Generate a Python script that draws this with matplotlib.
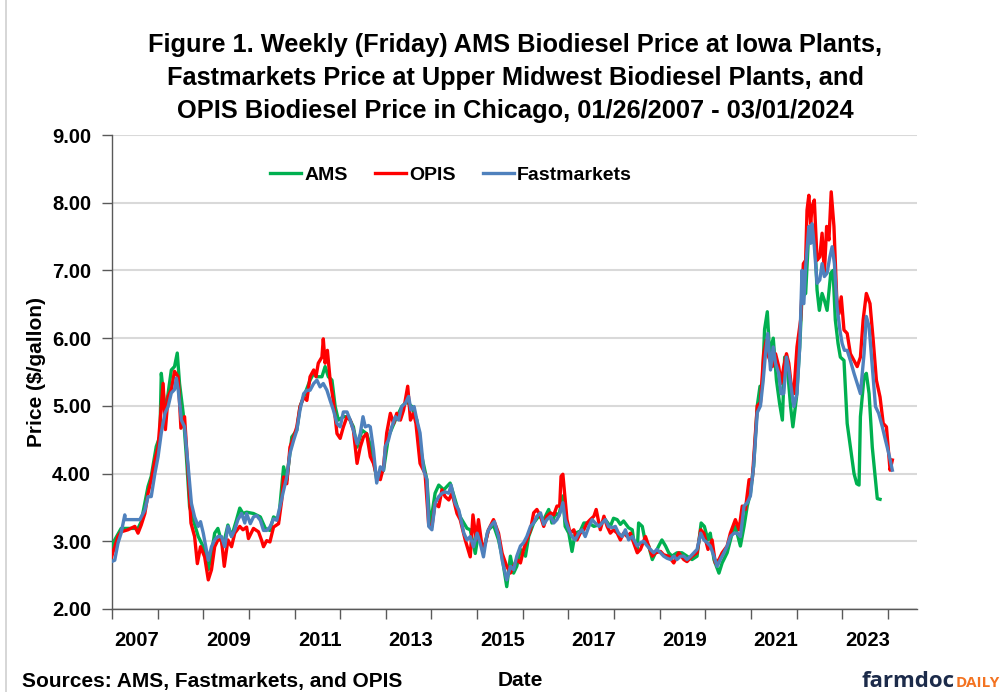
import matplotlib
matplotlib.use('Agg')
import matplotlib.pyplot as plt
from matplotlib.lines import Line2D

plt.rcParams['font.family'] = ['Liberation Sans', 'DejaVu Sans']
plt.rcParams['font.weight'] = 'bold'

# weekly prices, x in fractional years
ams_x = [2007.06, 2007.13, 2007.27, 2007.42, 2007.64, 2007.71, 2007.86, 2007.93, 2008.04, 2008.12,
         2008.15, 2008.21, 2008.26, 2008.37, 2008.44, 2008.50, 2008.55, 2008.63, 2008.70, 2008.77,
         2008.85, 2008.96, 2009.07, 2009.18, 2009.25, 2009.32, 2009.39, 2009.50, 2009.61, 2009.69,
         2009.80, 2009.87, 2009.94, 2010.02, 2010.17, 2010.32, 2010.43, 2010.53, 2010.61, 2010.72,
         2010.83, 2010.90, 2011.01, 2011.12, 2011.19, 2011.27, 2011.41, 2011.49, 2011.56, 2011.67,
         2011.74, 2011.81, 2011.89, 2011.96, 2012.03, 2012.14, 2012.25, 2012.36, 2012.44, 2012.55,
         2012.65, 2012.77, 2012.87, 2013.02, 2013.13, 2013.28, 2013.42, 2013.53, 2013.64, 2013.75,
         2013.86, 2013.97, 2014.04, 2014.15, 2014.23, 2014.34, 2014.48, 2014.59, 2014.70, 2014.85,
         2014.92, 2015.03, 2015.10, 2015.21, 2015.32, 2015.43, 2015.54, 2015.62, 2015.65, 2015.72,
         2015.80, 2015.87, 2015.94, 2016.02, 2016.13, 2016.20, 2016.31, 2016.42, 2016.53, 2016.64,
         2016.71, 2016.79, 2016.86, 2016.95, 2017.00, 2017.08, 2017.15, 2017.22, 2017.33, 2017.41,
         2017.52, 2017.63, 2017.77, 2017.88, 2017.99, 2018.06, 2018.14, 2018.21, 2018.28, 2018.39,
         2018.47, 2018.50, 2018.58, 2018.61, 2018.69, 2018.76, 2018.83, 2018.91, 2018.98, 2019.05,
         2019.12, 2019.20, 2019.27, 2019.34, 2019.45, 2019.56, 2019.67, 2019.78, 2019.89, 2019.98,
         2020.05, 2020.13, 2020.18, 2020.26, 2020.37, 2020.44, 2020.55, 2020.66, 2020.73, 2020.84,
         2020.92, 2020.99, 2021.06, 2021.13, 2021.21, 2021.27, 2021.32, 2021.37, 2021.43, 2021.48,
         2021.56, 2021.63, 2021.70, 2021.76, 2021.81, 2021.88, 2021.94, 2021.99, 2022.07, 2022.14,
         2022.19, 2022.27, 2022.34, 2022.41, 2022.46, 2022.52, 2022.57, 2022.63, 2022.68, 2022.74,
         2022.82, 2022.87, 2022.92, 2022.98, 2023.03, 2023.11, 2023.18, 2023.25, 2023.33, 2023.39,
         2023.44, 2023.47, 2023.55, 2023.60, 2023.66, 2023.73, 2023.80, 2023.84, 2023.90]
ams_y = [2.92, 3.02, 3.19, 3.19, 3.19, 3.29, 3.81, 3.96, 4.40, 4.55,
         5.48, 5.09, 4.99, 5.53, 5.58, 5.78, 5.33, 4.89, 4.25, 3.51,
         3.32, 3.07, 2.92, 2.58, 2.82, 3.12, 3.19, 2.92, 3.24, 3.07,
         3.32, 3.49, 3.41, 3.43, 3.41, 3.36, 3.19, 3.16, 3.36, 3.31,
         4.10, 3.90, 4.54, 4.64, 4.99, 5.13, 5.38, 5.48, 5.43, 5.43,
         5.58, 5.43, 5.38, 4.99, 4.79, 4.84, 4.84, 4.69, 4.39, 4.64,
         4.59, 4.34, 3.91, 4.05, 4.55, 4.79, 4.99, 5.06, 4.99, 4.79,
         4.25, 3.91, 3.22, 3.71, 3.83, 3.76, 3.86, 3.61, 3.36, 3.19,
         3.17, 2.82, 3.12, 2.87, 3.17, 3.24, 3.02, 2.77, 2.63, 2.33,
         2.78, 2.53, 2.63, 2.88, 2.78, 3.07, 3.27, 3.37, 3.32, 3.47,
         3.27, 3.42, 3.37, 3.67, 3.22, 3.12, 2.85, 3.12, 3.15, 3.27,
         3.27, 3.22, 3.25, 3.32, 3.22, 3.34, 3.32, 3.25, 3.30, 3.20,
         3.17, 3.02, 2.88, 3.27, 3.22, 2.98, 2.93, 2.73, 2.83, 2.93,
         3.02, 2.93, 2.83, 2.78, 2.83, 2.83, 2.78, 2.73, 2.78, 3.27,
         3.22, 3.02, 3.12, 2.73, 2.53, 2.68, 2.83, 3.12, 3.22, 2.93,
         3.22, 3.52, 3.71, 4.11, 5.00, 5.29, 5.29, 6.13, 6.39, 5.77,
         6.00, 5.38, 5.03, 4.79, 5.72, 5.48, 4.99, 4.69, 5.13, 5.87,
         6.61, 6.66, 7.60, 7.55, 7.60, 6.71, 6.41, 6.66, 6.56, 6.41,
         6.96, 7.00, 6.27, 5.92, 5.72, 5.67, 4.74, 4.39, 4.00, 3.85,
         3.83, 4.84, 5.43, 5.48, 5.18, 4.39, 3.90, 3.63, 3.62]

opis_x = [2007.06, 2007.13, 2007.20, 2007.27, 2007.42, 2007.57, 2007.64, 2007.71, 2007.79, 2007.86,
          2007.93, 2008.01, 2008.08, 2008.15, 2008.19, 2008.24, 2008.30, 2008.37, 2008.44, 2008.52,
          2008.58, 2008.66, 2008.74, 2008.80, 2008.88, 2008.94, 2009.01, 2009.10, 2009.18, 2009.25,
          2009.32, 2009.39, 2009.47, 2009.53, 2009.61, 2009.69, 2009.76, 2009.87, 2009.94, 2010.02,
          2010.06, 2010.17, 2010.28, 2010.35, 2010.39, 2010.46, 2010.53, 2010.61, 2010.72, 2010.79,
          2010.83, 2010.90, 2010.97, 2011.05, 2011.12, 2011.19, 2011.27, 2011.34, 2011.41, 2011.49,
          2011.54, 2011.59, 2011.67, 2011.70, 2011.74, 2011.79, 2011.85, 2011.92, 2012.00, 2012.07,
          2012.14, 2012.22, 2012.29, 2012.36, 2012.44, 2012.51, 2012.58, 2012.65, 2012.73, 2012.80,
          2012.87, 2012.95, 2013.02, 2013.09, 2013.17, 2013.24, 2013.31, 2013.39, 2013.46, 2013.55,
          2013.61, 2013.68, 2013.73, 2013.82, 2013.93, 2014.01, 2014.08, 2014.15, 2014.23, 2014.30,
          2014.37, 2014.45, 2014.52, 2014.63, 2014.70, 2014.81, 2014.92, 2014.98, 2015.05, 2015.10,
          2015.18, 2015.25, 2015.32, 2015.43, 2015.54, 2015.62, 2015.72, 2015.80, 2015.87, 2015.94,
          2016.02, 2016.09, 2016.16, 2016.24, 2016.31, 2016.38, 2016.46, 2016.53, 2016.60, 2016.68,
          2016.75, 2016.82, 2016.88, 2016.91, 2016.95, 2017.00, 2017.04, 2017.11, 2017.19, 2017.26,
          2017.33, 2017.41, 2017.48, 2017.55, 2017.63, 2017.68, 2017.77, 2017.85, 2017.92, 2017.99,
          2018.06, 2018.14, 2018.21, 2018.28, 2018.36, 2018.43, 2018.50, 2018.58, 2018.65, 2018.76,
          2018.83, 2018.91, 2018.98, 2019.09, 2019.16, 2019.27, 2019.38, 2019.49, 2019.60, 2019.67,
          2019.78, 2019.89, 2019.97, 2020.04, 2020.13, 2020.22, 2020.29, 2020.37, 2020.44, 2020.55,
          2020.62, 2020.73, 2020.81, 2020.88, 2020.95, 2021.03, 2021.10, 2021.17, 2021.21, 2021.28,
          2021.35, 2021.41, 2021.46, 2021.54, 2021.61, 2021.68, 2021.73, 2021.79, 2021.85, 2021.90,
          2021.95, 2022.01, 2022.08, 2022.16, 2022.22, 2022.27, 2022.30, 2022.34, 2022.38, 2022.41,
          2022.46, 2022.52, 2022.58, 2022.63, 2022.68, 2022.73, 2022.78, 2022.83, 2022.89, 2022.95,
          2023.00, 2023.05, 2023.11, 2023.18, 2023.25, 2023.33, 2023.40, 2023.47, 2023.53, 2023.60,
          2023.68, 2023.75, 2023.82, 2023.90, 2023.97, 2024.04, 2024.12, 2024.17]
opis_y = [2.77, 2.92, 3.07, 3.14, 3.17, 3.22, 3.12, 3.24, 3.41, 3.71,
          3.91, 4.20, 4.40, 4.99, 5.33, 4.65, 5.14, 5.24, 5.51, 5.43,
          4.67, 4.84, 4.00, 3.27, 3.07, 2.67, 2.92, 2.77, 2.43, 2.58,
          2.92, 3.02, 3.02, 2.63, 3.02, 2.92, 3.12, 3.22, 3.17, 3.21,
          3.04, 3.19, 3.14, 3.01, 2.92, 3.01, 2.99, 3.21, 3.26, 3.61,
          3.95, 3.85, 4.39, 4.54, 4.69, 4.99, 5.13, 5.08, 5.43, 5.53,
          5.43, 5.63, 5.72, 5.99, 5.63, 5.82, 5.38, 5.08, 4.59, 4.52,
          4.69, 4.84, 4.79, 4.64, 4.15, 4.39, 4.54, 4.59, 4.25, 4.15,
          3.96, 3.91, 4.10, 4.60, 4.89, 4.74, 4.89, 4.79, 4.94, 5.29,
          4.79, 4.89, 4.74, 4.15, 4.00, 3.24, 3.22, 3.56, 3.51, 3.76,
          3.66, 3.61, 3.71, 3.41, 3.32, 3.02, 2.77, 3.39, 3.02, 3.32,
          2.92, 2.97, 3.17, 3.32, 3.12, 2.82, 2.63, 2.53, 2.63, 2.73,
          2.68, 2.88, 3.02, 3.17, 3.42, 3.47, 3.37, 3.22, 3.37, 3.42,
          3.39, 3.52, 3.52, 3.96, 3.99, 3.62, 3.32, 3.12, 3.17, 3.02,
          3.12, 3.17, 3.27, 3.32, 3.37, 3.47, 3.17, 3.37, 3.22, 3.12,
          3.17, 3.12, 3.02, 3.12, 3.07, 3.12, 2.98, 2.83, 2.88, 3.07,
          2.93, 2.78, 2.83, 2.85, 2.80, 2.78, 2.68, 2.83, 2.73, 2.70,
          2.78, 2.83, 3.17, 3.12, 2.88, 3.02, 2.68, 2.73, 2.83, 2.93,
          3.12, 3.32, 3.17, 3.52, 3.47, 3.91, 3.91, 4.60, 5.00, 5.05,
          5.77, 5.97, 5.72, 5.58, 5.77, 5.58, 5.33, 5.58, 5.77, 5.63,
          5.33, 5.18, 5.87, 6.27, 7.10, 7.15, 7.89, 8.11, 7.69, 7.94,
          8.04, 7.15, 7.20, 7.55, 6.96, 7.65, 7.45, 8.16, 7.65, 6.61,
          6.36, 6.61, 6.12, 6.07, 5.77, 5.67, 5.58, 5.72, 6.27, 6.66,
          6.51, 5.97, 5.38, 5.13, 4.74, 4.69, 4.05, 4.20]

fm_x = [2007.06, 2007.13, 2007.20, 2007.27, 2007.35, 2007.36, 2007.68, 2007.71, 2007.79, 2007.86,
        2007.93, 2008.01, 2008.08, 2008.15, 2008.23, 2008.30, 2008.37, 2008.44, 2008.48, 2008.52,
        2008.59, 2008.66, 2008.74, 2008.81, 2008.88, 2008.96, 2009.01, 2009.07, 2009.18, 2009.25,
        2009.32, 2009.39, 2009.47, 2009.54, 2009.61, 2009.69, 2009.76, 2009.83, 2009.91, 2009.98,
        2010.02, 2010.10, 2010.17, 2010.24, 2010.32, 2010.39, 2010.46, 2010.53, 2010.61, 2010.68,
        2010.75, 2010.83, 2010.90, 2010.97, 2011.05, 2011.12, 2011.19, 2011.27, 2011.34, 2011.41,
        2011.49, 2011.56, 2011.63, 2011.70, 2011.78, 2011.85, 2011.92, 2012.00, 2012.07, 2012.14,
        2012.22, 2012.29, 2012.36, 2012.44, 2012.51, 2012.57, 2012.62, 2012.69, 2012.73, 2012.80,
        2012.87, 2012.95, 2013.02, 2013.06, 2013.13, 2013.20, 2013.28, 2013.35, 2013.42, 2013.50,
        2013.57, 2013.62, 2013.69, 2013.75, 2013.82, 2013.90, 2013.97, 2014.01, 2014.08, 2014.15,
        2014.23, 2014.30, 2014.37, 2014.45, 2014.50, 2014.59, 2014.67, 2014.78, 2014.85, 2014.92,
        2014.99, 2015.07, 2015.14, 2015.21, 2015.29, 2015.36, 2015.45, 2015.54, 2015.62, 2015.72,
        2015.80, 2015.87, 2015.94, 2016.02, 2016.09, 2016.16, 2016.24, 2016.31, 2016.38, 2016.46,
        2016.53, 2016.60, 2016.68, 2016.75, 2016.82, 2016.89, 2016.95, 2017.00, 2017.08, 2017.15,
        2017.22, 2017.30, 2017.37, 2017.44, 2017.52, 2017.59, 2017.66, 2017.74, 2017.81, 2017.88,
        2017.95, 2018.03, 2018.10, 2018.17, 2018.25, 2018.32, 2018.39, 2018.47, 2018.58, 2018.65,
        2018.72, 2018.80, 2018.87, 2018.94, 2019.01, 2019.09, 2019.16, 2019.23, 2019.31, 2019.38,
        2019.45, 2019.53, 2019.60, 2019.67, 2019.75, 2019.82, 2019.89, 2019.97, 2020.04, 2020.11,
        2020.18, 2020.26, 2020.33, 2020.40, 2020.48, 2020.55, 2020.62, 2020.70, 2020.77, 2020.84,
        2020.92, 2020.99, 2021.06, 2021.13, 2021.21, 2021.28, 2021.34, 2021.39, 2021.44, 2021.50,
        2021.56, 2021.61, 2021.68, 2021.73, 2021.79, 2021.85, 2021.90, 2021.95, 2022.01, 2022.08,
        2022.14, 2022.19, 2022.23, 2022.27, 2022.34, 2022.38, 2022.41, 2022.46, 2022.52, 2022.58,
        2022.63, 2022.68, 2022.74, 2022.80, 2022.85, 2022.90, 2022.96, 2023.02, 2023.07, 2023.12,
        2023.18, 2023.25, 2023.33, 2023.40, 2023.47, 2023.55, 2023.60, 2023.66, 2023.73, 2023.80,
        2023.87, 2023.95, 2024.02, 2024.09, 2024.17]
fm_y = [2.70, 2.72, 2.97, 3.12, 3.39, 3.32, 3.32, 3.36, 3.46, 3.66,
        3.66, 4.00, 4.25, 4.60, 4.89, 4.99, 5.19, 5.24, 5.41, 5.24,
        4.79, 4.69, 4.10, 3.56, 3.36, 3.22, 3.29, 3.12, 2.72, 2.92,
        3.02, 3.07, 3.07, 2.92, 3.22, 3.07, 3.17, 3.32, 3.41, 3.27,
        3.41, 3.26, 3.36, 3.38, 3.31, 3.16, 3.16, 3.21, 3.33, 3.31,
        3.51, 3.75, 3.95, 4.30, 4.49, 4.64, 4.94, 5.18, 5.23, 5.23,
        5.33, 5.38, 5.28, 5.33, 5.23, 5.08, 4.94, 4.74, 4.69, 4.91,
        4.91, 4.79, 4.64, 4.44, 4.59, 4.84, 4.69, 4.71, 4.69, 4.35,
        3.86, 4.10, 4.05, 4.40, 4.50, 4.69, 4.84, 4.79, 4.99, 5.04,
        5.14, 4.94, 4.99, 4.79, 4.60, 4.05, 3.91, 3.22, 3.17, 3.56,
        3.66, 3.71, 3.73, 3.71, 3.83, 3.56, 3.46, 3.12, 3.02, 3.07,
        2.92, 3.12, 2.97, 2.77, 3.12, 3.22, 3.29, 3.07, 2.72, 2.43,
        2.63, 2.58, 2.78, 2.93, 2.98, 3.07, 3.22, 3.27, 3.37, 3.42,
        3.25, 3.32, 3.37, 3.27, 3.32, 3.42, 3.57, 3.32, 3.17, 3.07,
        3.02, 3.12, 3.17, 3.07, 3.22, 3.32, 3.27, 3.22, 3.27, 3.32,
        3.22, 3.20, 3.22, 3.12, 3.07, 3.17, 3.02, 3.07, 2.93, 2.98,
        3.00, 2.93, 2.88, 2.83, 2.88, 2.83, 2.78, 2.75, 2.73, 2.78,
        2.73, 2.78, 2.78, 2.73, 2.78, 2.83, 2.88, 3.12, 3.02, 2.98,
        2.93, 2.78, 2.63, 2.73, 2.83, 2.93, 3.07, 3.12, 3.12, 3.07,
        3.52, 3.57, 3.67, 4.11, 4.90, 5.00, 5.38, 5.77, 6.07, 5.53,
        5.87, 5.63, 5.48, 5.18, 5.18, 5.72, 5.53, 5.28, 4.99, 5.18,
        5.87, 7.00, 6.51, 7.05, 7.65, 7.40, 7.69, 7.35, 6.81, 6.86,
        7.10, 6.91, 6.96, 7.20, 7.35, 7.10, 6.46, 6.12, 5.92, 5.82,
        5.82, 5.67, 5.48, 5.33, 5.18, 5.77, 6.32, 6.17, 5.58, 4.99,
        4.89, 4.69, 4.49, 4.30, 4.05]

year_ticks = [2007.07 + k for k in range(18)]
year_labels = ['2007', '2009', '2011', '2013', '2015', '2017', '2019', '2021', '2023']
label_pos = [int(s) + 0.62 for s in year_labels]
price_ticks = [2, 3, 4, 5, 6, 7, 8, 9]

W, H = 1005, 692
fig = plt.figure(figsize=(W / 100, H / 100), dpi=100)
ax = fig.add_axes([112 / W, 83 / H, 805 / W, 474 / H])

ax.plot(ams_x, ams_y, color='#00B050', lw=2.4, label='AMS', zorder=3)
ax.plot(opis_x, opis_y, color='#FF0000', lw=2.4, label='OPIS', zorder=4)
ax.plot(fm_x, fm_y, color='#4F81BD', lw=2.4, label='Fastmarkets', zorder=5)

ax.set_xlim(2007.07, 2024.71)
ax.set_ylim(2, 9)
ax.set_yticks(price_ticks)
ax.set_yticklabels(['%.2f' % v for v in price_ticks])
ax.yaxis.grid(True, color='#d9d9d9', lw=1.5)
ax.set_axisbelow(True)

ax.set_xticks(label_pos)
ax.set_xticklabels(year_labels)
ax.set_xticks(year_ticks, minor=True)
ax.tick_params(axis='x', which='major', length=0, pad=16, labelsize=14.5)
ax.tick_params(axis='x', which='minor', length=7, width=1, color='#595959', direction='out')
ax.tick_params(axis='y', length=7, width=1, color='#595959', pad=8, labelsize=14.5)

for s in ['top', 'right']:
    ax.spines[s].set_visible(False)
for s in ['left', 'bottom']:
    ax.spines[s].set_color('#595959')
    ax.spines[s].set_linewidth(1.0)

ax.set_ylabel('Price ($/gallon)', fontsize=15, fontweight='bold', labelpad=4)

title_lines = ['Figure 1. Weekly (Friday) AMS Biodiesel Price at Iowa Plants,',
               'Fastmarkets Price at Upper Midwest Biodiesel Plants, and',
               'OPIS Biodiesel Price in Chicago, 01/26/2007 - 03/01/2024']
for i, line in enumerate(title_lines):
    fig.text(515 / W, 1 - (45 + 33 * i) / H, line, ha='center', va='center',
             fontsize=18.3, fontweight='bold')

fig.legend(loc='center', bbox_to_anchor=(451 / W, 1 - 175 / H), ncol=3, frameon=False,
           fontsize=14, handlelength=1.6, handletextpad=0.15, columnspacing=1.4)

fig.text(520 / W, 1 - 686 / H, 'Date', ha='center', va='baseline', fontsize=15, fontweight='bold')
fig.text(22 / W, 1 - 687 / H, 'Sources: AMS, Fastmarkets, and OPIS', ha='left', va='baseline',
         fontsize=15, fontweight='bold')

fig.text(955 / W, 1 - 687 / H, 'farmdoc', ha='right', va='baseline', fontsize=16,
         fontweight='bold', color='#1c2b4a', family=['Open Sans', 'DejaVu Sans'])
fig.text(956 / W, 1 - 687 / H, 'DAILY', ha='left', va='baseline', fontsize=11,
         fontweight='bold', color='#f37321', family=['Open Sans', 'DejaVu Sans'])

# chart-area border seen at the left edge
fig.add_artist(Line2D([5.5 / W, 5.5 / W], [0, 1], color='#d0d0d0', lw=1.2))

fig.savefig('out.png', dpi=100)
